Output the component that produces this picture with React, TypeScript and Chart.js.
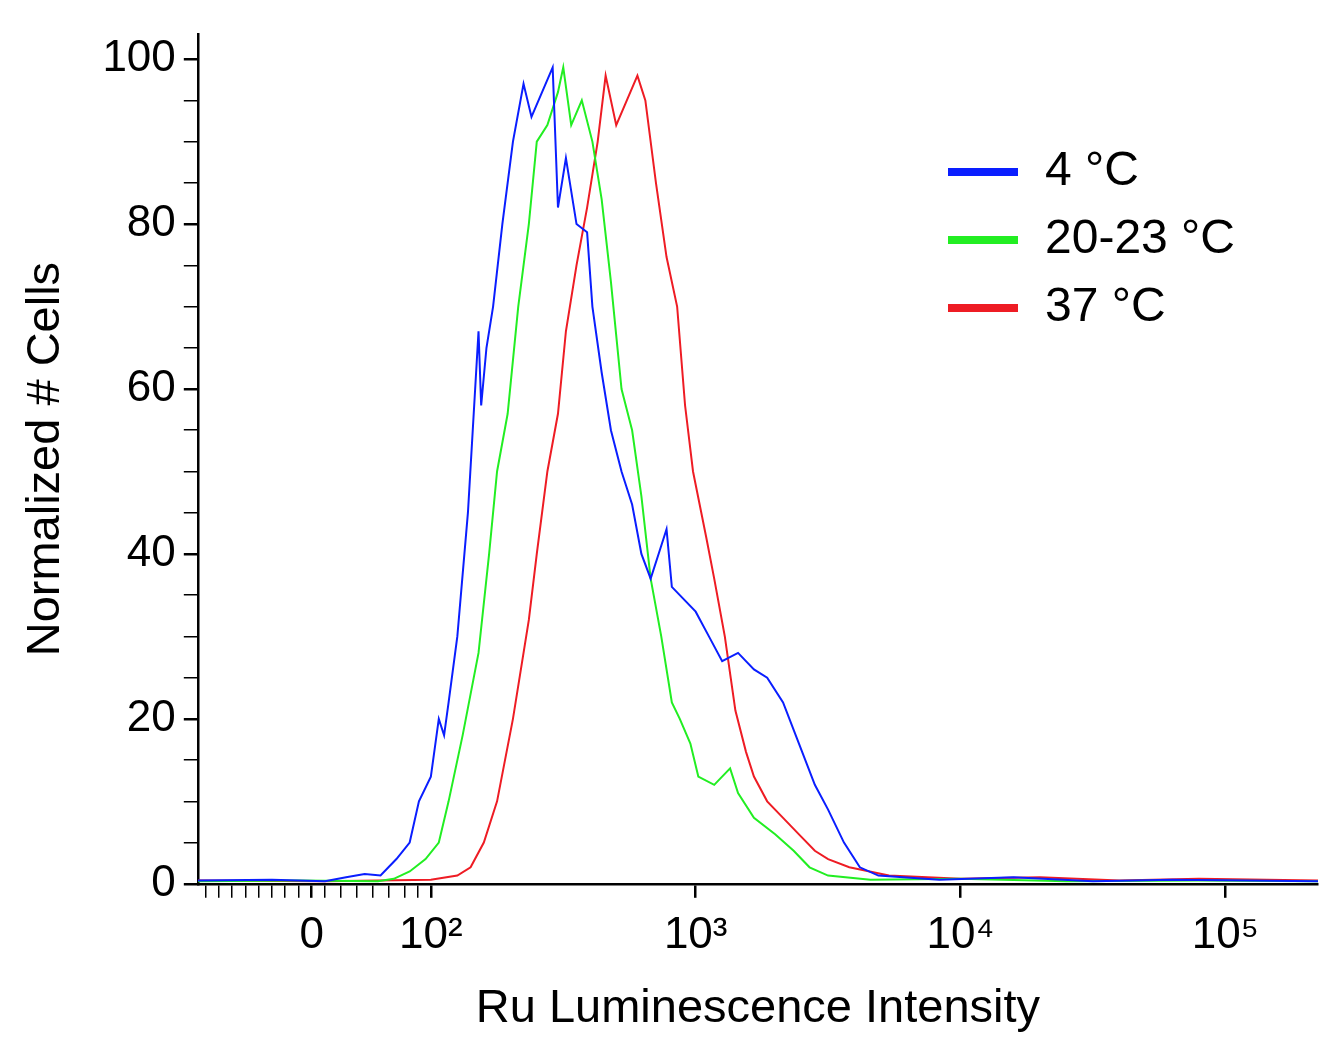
import React, { useEffect, useRef } from 'react';
import { Chart, registerables } from 'chart.js';

Chart.register(...registerables);

// x values are in display decades (2 = 10^2, 3 = 10^3 ...), 0 intensity sits at 1.55
const blueX = [1.12, 1.4, 1.6, 1.68, 1.75, 1.81, 1.87, 1.92, 1.955, 2.0, 2.03, 2.05, 2.067, 2.1, 2.14, 2.16, 2.18, 2.19, 2.21, 2.235, 2.27, 2.31, 2.35, 2.38, 2.42, 2.46, 2.48, 2.51, 2.55, 2.59, 2.61, 2.645, 2.68, 2.72, 2.76, 2.795, 2.83, 2.86, 2.89, 2.91, 2.94, 3.0, 3.05, 3.1, 3.16, 3.22, 3.27, 3.33, 3.39, 3.45, 3.5, 3.56, 3.62, 3.69, 3.92, 4.2, 4.5, 4.8, 5.35];
const blueY = [0.4, 0.5, 0.3, 0.8, 1.2, 1, 3, 5, 10, 13, 20, 18, 22, 30, 45, 56, 67, 58, 65, 70, 80, 90, 97, 93, 96, 99, 82, 88, 80, 79, 70, 62, 55, 50, 46, 40, 37, 40, 43, 36, 35, 33, 30, 27, 28, 26, 25, 22, 17, 12, 9, 5, 2, 1, 0.5, 0.8, 0.3, 0.5, 0.3];

const greenX = [1.12, 1.5, 1.8, 1.86, 1.92, 1.98, 2.03, 2.067, 2.12, 2.18, 2.22, 2.25, 2.29, 2.33, 2.37, 2.40, 2.44, 2.48, 2.5, 2.53, 2.57, 2.61, 2.645, 2.68, 2.72, 2.76, 2.795, 2.83, 2.87, 2.91, 2.94, 2.98, 3.01, 3.07, 3.13, 3.16, 3.22, 3.3, 3.37, 3.43, 3.5, 3.66, 4.0, 4.4, 4.9, 5.35];
const greenY = [0.3, 0.4, 0.3, 0.6, 1.5, 3, 5, 10, 18, 28, 40, 50, 57, 70, 80, 90, 92, 96, 99, 92, 95, 90, 83, 73, 60, 55, 47, 37, 30, 22, 20, 17, 13, 12, 14, 11, 8, 6, 4, 2, 1, 0.5, 0.6, 0.3, 0.4, 0.3];

const redX = [1.12, 1.6, 2.0, 2.1, 2.15, 2.2, 2.25, 2.31, 2.37, 2.4, 2.44, 2.48, 2.51, 2.55, 2.59, 2.63, 2.66, 2.7, 2.74, 2.78, 2.81, 2.85, 2.89, 2.93, 2.96, 2.99, 3.04, 3.07, 3.11, 3.15, 3.19, 3.22, 3.27, 3.33, 3.39, 3.45, 3.5, 3.58, 3.73, 4.0, 4.3, 4.6, 4.9, 5.35];
const redY = [0.4, 0.3, 0.5, 1, 2, 5, 10, 20, 32, 40, 50, 57, 67, 75, 82, 90, 98, 92, 95, 98, 95, 85, 76, 70, 58, 50, 42, 37, 30, 21, 16, 13, 10, 8, 6, 4, 3, 2, 1, 0.6, 0.8, 0.4, 0.6, 0.4];

const seriesNames = ['4 °C', '20-23 °C', '37 °C'];
const seriesColors = ['#0a1eff', '#22ee22', '#ee1c24'];

const xMajor = [1.55, 2, 3, 4, 5];
const xLabels = ['0', '10²', '10³', '10⁴', '10⁵'];
const xMinor = [1.15, 1.2, 1.25, 1.3, 1.35, 1.4, 1.45, 1.5, 1.6, 1.66, 1.72, 1.78, 1.84, 1.9, 1.95];

const font = 'Liberation Sans, Arial, sans-serif';

const legendPlugin = {
  id: 'legendInside',
  afterDraw(chart: any) {
    const { ctx } = chart;
    ctx.save();
    ctx.font = `48px ${font}`;
    ctx.textBaseline = 'middle';
    seriesNames.forEach((name, i) => {
      const y = 172 + i * 68;
      ctx.fillStyle = seriesColors[i];
      ctx.fillRect(948, y - 4, 70, 8);
      ctx.fillStyle = '#000';
      ctx.fillText(name, 1045, y);
    });
    ctx.restore();
  },
};

export default function App() {
  const ref = useRef<HTMLCanvasElement>(null);
  useEffect(() => {
    document.body.style.margin = '0';
    if (!ref.current) return;
    const mk = (xs: number[], ys: number[]) => xs.map((x, i) => ({ x, y: ys[i] }));
    const allX = [...xMinor, ...xMajor].sort((a, b) => a - b);
    const chart = new Chart(ref.current, {
      type: 'line',
      data: {
        datasets: [
          { label: seriesNames[0], data: mk(blueX, blueY), borderColor: seriesColors[0] },
          { label: seriesNames[1], data: mk(greenX, greenY), borderColor: seriesColors[1] },
          { label: seriesNames[2], data: mk(redX, redY), borderColor: seriesColors[2] },
        ].map(d => ({ ...d, borderWidth: 2, pointRadius: 0, tension: 0, fill: false })),
      },
      options: {
        animation: false,
        responsive: false,
        layout: { padding: { top: 0, right: 4, left: 14, bottom: 16 } },
        plugins: { legend: { display: false }, tooltip: { enabled: false } },
        scales: {
          x: {
            type: 'linear', min: 1.12, max: 5.35,
            afterBuildTicks: (s: any) => { s.ticks = allX.map(v => ({ value: v })); },
            ticks: {
              autoSkip: false, maxRotation: 0, color: '#000', padding: 12,
              font: { family: font, size: 44 },
              callback: (v: any) => { const i = xMajor.indexOf(Number(v)); return i >= 0 ? xLabels[i] : ''; },
            },
            grid: {
              drawOnChartArea: false, tickLength: 14, tickColor: '#000',
              lineWidth: (c: any) => (xMajor.includes(c.tick?.value) ? 2.5 : 1.5),
            },
            border: { color: '#000', width: 2.5 },
            title: { display: true, text: 'Ru Luminescence Intensity', color: '#000', font: { family: font, size: 47 }, padding: { top: 6 } },
          },
          y: {
            min: 0, max: 103,
            afterBuildTicks: (s: any) => { s.ticks = Array.from({ length: 21 }, (_, i) => ({ value: i * 5 })); },
            ticks: {
              autoSkip: false, color: '#000', padding: 8,
              font: { family: font, size: 44 },
              callback: (v: any) => (Number(v) % 20 === 0 ? String(v) : ''),
            },
            grid: {
              drawOnChartArea: false, tickLength: 14, tickColor: '#000',
              lineWidth: (c: any) => (c.tick && c.tick.value % 20 === 0 ? 2.5 : 1.5),
            },
            border: { color: '#000', width: 2.5 },
            title: { display: true, text: 'Normalized # Cells', color: '#000', font: { family: font, size: 47 }, padding: { bottom: 20 } },
          },
        },
      },
      plugins: [legendPlugin],
    });
    return () => chart.destroy();
  }, []);
  return <canvas ref={ref} width={1322} height={1057} style={{ display: 'block' }} />;
}
